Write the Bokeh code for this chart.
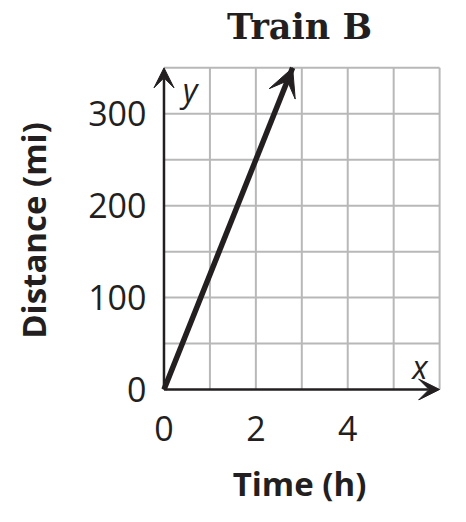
from bokeh.plotting import figure
from bokeh.models import Arrow, VeeHead, Label, FixedTicker, Range1d, LinearAxis
from bokeh.embed import file_html
from bokeh.resources import INLINE

# Data
time_h = [0, 2.8]
distance_mi = [0, 350]
x_ticks = [0, 2, 4]
y_ticks = [0, 100, 200, 300]
x_grid = [1, 2, 3, 4, 5, 6]
y_grid = [50, 100, 150, 200, 250, 300, 350]
x_max = 6
y_max = 350
title_text = "Train B"

INK = "#231f20"
GRID = "#b8b8b8"

p = figure(frame_width=294, frame_height=340,
           x_range=Range1d(-0.25, 6.15), y_range=Range1d(-12, 358),
           output_backend="svg", toolbar_location=None,
           min_border_left=152, min_border_right=10, min_border_top=60, min_border_bottom=112)

for ax in (p.xaxis[0], p.yaxis[0]):
    ax.axis_line_color = None
    ax.major_tick_line_color = None
    ax.minor_tick_line_color = None
    ax.major_label_text_font = "Open Sans"
    ax.major_label_text_font_size = "34px"
    ax.major_label_text_color = INK
    ax.axis_label_text_font = "Open Sans"
    ax.axis_label_text_font_size = "33px"
    ax.axis_label_text_font_style = "bold"
    ax.axis_label_text_color = INK

p.xaxis.ticker = FixedTicker(ticks=x_ticks)
p.yaxis.ticker = FixedTicker(ticks=y_ticks)
p.xaxis.axis_label = "Time (h)"
p.yaxis.axis_label = "Distance (mi)"
p.xaxis.major_label_standoff = 9
p.yaxis.major_label_standoff = 0
p.xaxis.axis_label_standoff = 17
p.yaxis.axis_label_standoff = 29

# Title as the label of an extra axis above the frame
tax = LinearAxis(ticker=FixedTicker(ticks=[]), axis_label=title_text,
                 axis_line_color=None, major_tick_line_color=None, minor_tick_line_color=None,
                 major_tick_out=0, major_tick_in=0, minor_tick_out=0, minor_tick_in=0,
                 major_label_text_font_size="0px",
                 axis_label_text_font="DejaVu Serif", axis_label_text_font_style="bold",
                 axis_label_text_font_size="35px", axis_label_text_color=INK,
                 axis_label_standoff=14)
p.add_layout(tax, "above")

p.xgrid.grid_line_color = None
p.ygrid.grid_line_color = None
p.outline_line_color = None

# Grid drawn inside the data box only
p.segment(x0=x_grid, y0=[0] * len(x_grid), x1=x_grid, y1=[y_max] * len(x_grid),
          line_color=GRID, line_width=2)
p.segment(x0=[0] * len(y_grid), y0=y_grid, x1=[x_max] * len(y_grid), y1=y_grid,
          line_color=GRID, line_width=2)

# Axes with arrows
p.add_layout(Arrow(end=VeeHead(size=21, fill_color=INK, line_color=INK, line_width=1),
                   x_start=0, y_start=0, x_end=x_max, y_end=0,
                   line_color=INK, line_width=2.5))
p.add_layout(Arrow(end=VeeHead(size=20, fill_color=INK, line_color=INK, line_width=1),
                   x_start=0, y_start=0, x_end=0, y_end=y_max,
                   line_color=INK, line_width=2.5))

# Data line
p.line(time_h, distance_mi, line_color=INK, line_width=5.5)
p.add_layout(Arrow(end=VeeHead(size=28, fill_color=INK, line_color=INK, line_width=1),
                   x_start=time_h[0], y_start=distance_mi[0],
                   x_end=time_h[-1], y_end=distance_mi[-1],
                   line_color=INK, line_width=5, line_alpha=0))

p.add_layout(Label(x=5.57, y=25, text="x", text_font="Open Sans", text_font_style="italic",
                   text_font_size="32px", text_color=INK, text_align="center", text_baseline="middle"))
p.add_layout(Label(x=0.57, y=326, text="y", text_font="Open Sans", text_font_style="italic",
                   text_font_size="32px", text_color=INK, text_align="center", text_baseline="middle"))

open("out.html", "w").write(file_html(p, INLINE))
